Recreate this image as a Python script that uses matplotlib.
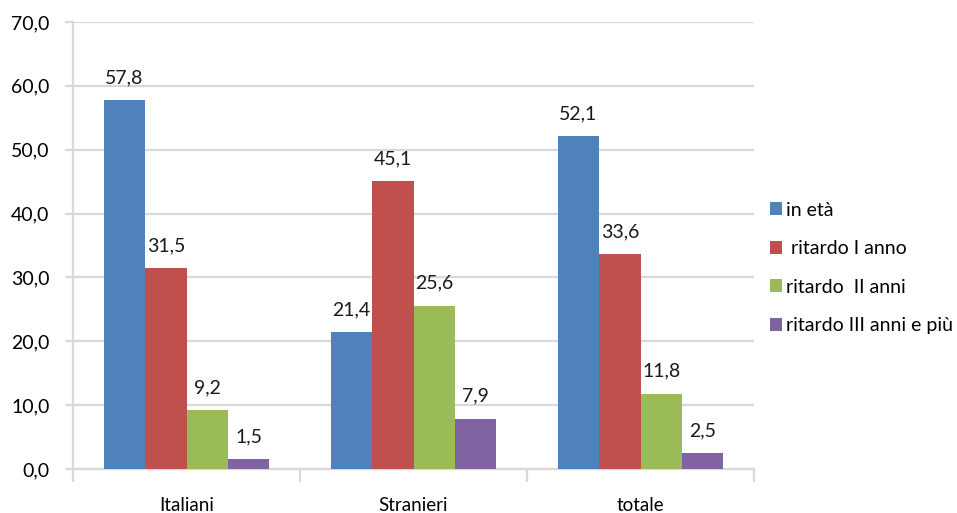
import numpy as np
import matplotlib.pyplot as plt

categories = ["Italiani", "Stranieri", "totale"]
series_names = ["in età", " ritardo I anno", "ritardo  II anni", "ritardo III anni e più"]
in_eta = [57.8, 21.4, 52.1]
ritardo_1 = [31.5, 45.1, 33.6]
ritardo_2 = [9.2, 25.6, 11.8]
ritardo_3 = [1.5, 7.9, 2.5]
colors = ["#4F81BD", "#C0504D", "#9BBB59", "#8064A2"]

plt.rcParams["font.family"] = ["Lato", "DejaVu Sans"]

fig = plt.figure(figsize=(9.57, 5.13), dpi=100)
ax = fig.add_axes([73 / 957, 1 - 469 / 513, (754 - 73) / 957, (469 - 22) / 513])

x = np.arange(len(categories))
bw = 0.182
all_series = [in_eta, ritardo_1, ritardo_2, ritardo_3]
for i, (vals, name, c) in enumerate(zip(all_series, series_names, colors)):
    pos = x + (i - 1.5) * bw
    ax.bar(pos, vals, bw, color=c, label=name, zorder=3)
    for xp, v in zip(pos, vals):
        ax.annotate(f"{v:.1f}".replace(".", ","), (xp, v), xytext=(0, 10),
                    textcoords="offset points", ha="center", va="bottom",
                    fontsize=14, color="#1a1a1a")

ax.set_xlim(-0.5, 2.5)
ax.set_ylim(0, 70)
ax.set_yticks(np.arange(0, 71, 10))
ax.set_yticklabels([f"{v:.1f}".replace(".", ",") for v in np.arange(0, 71, 10)])
ax.yaxis.grid(True, color="#D9D9D9", lw=1.6, zorder=0)
ax.tick_params(axis="y", length=6, width=1.6, color="#D9D9D9", labelsize=14, pad=11)

ax.set_xticks(x)
ax.set_xticklabels(categories)
ax.tick_params(axis="x", length=0, labelsize=13.5, pad=20)
ax.set_xticks([-0.5, 0.5, 1.5, 2.5], minor=True)
ax.tick_params(axis="x", which="minor", length=9, width=1.6, color="#D9D9D9")

for s in ["top", "right"]:
    ax.spines[s].set_visible(False)
for s in ["left", "bottom"]:
    ax.spines[s].set_color("#D9D9D9")
    ax.spines[s].set_linewidth(1.6)

ax.legend(loc="center left", bbox_to_anchor=(1.0, 0.45), frameon=False,
          fontsize=14, handlelength=0.65, handleheight=0.65, handletextpad=0.2,
          labelspacing=1.1, borderaxespad=0.4)

fig.savefig("out.png", dpi=100)
